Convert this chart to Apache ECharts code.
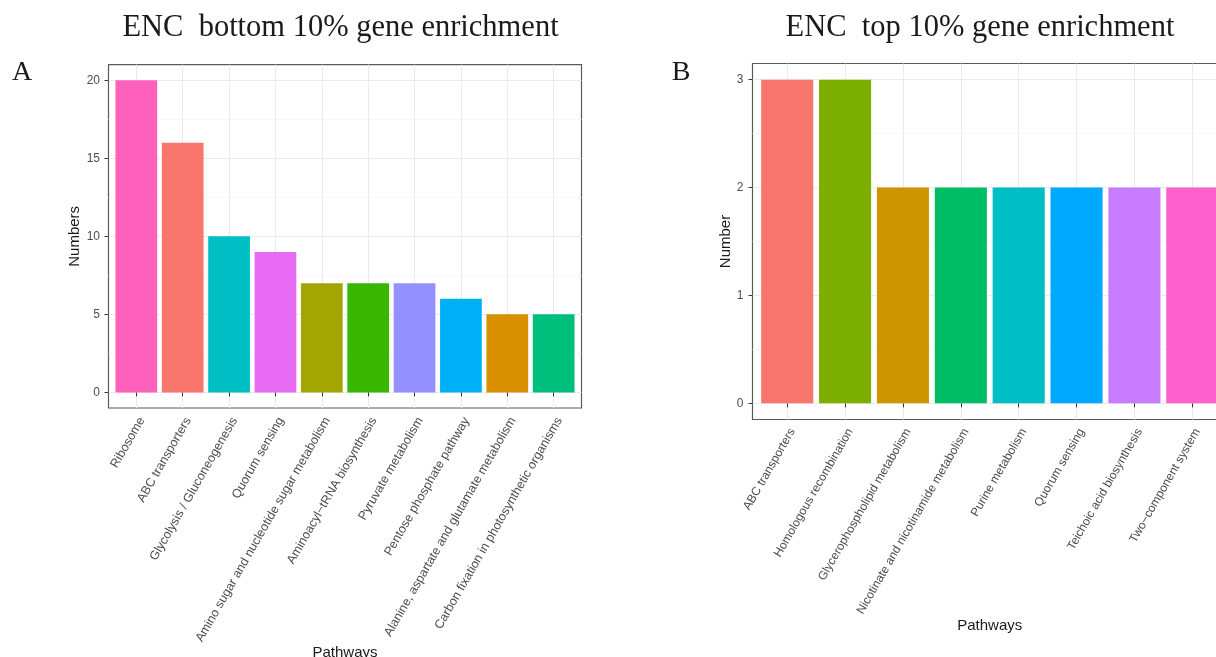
<!DOCTYPE html>
<html>
<head>
<meta charset="utf-8">
<style>
  html, body { margin: 0; padding: 0; background: #ffffff; overflow: hidden; }
  #chart { width: 1216px; height: 657px; }
</style>
<script src="https://cdn.jsdelivr.net/npm/echarts@6/dist/echarts.min.js"></script>
</head>
<body>
<div id="chart"></div>
<script>
// Panel A: pathways enriched in the bottom 10% ENC genes
const bottomPathways = [
  'Ribosome',
  'ABC transporters',
  'Glycolysis / Gluconeogenesis',
  'Quorum sensing',
  'Amino sugar and nucleotide sugar metabolism',
  'Aminoacyl\u2212tRNA biosynthesis',
  'Pyruvate metabolism',
  'Pentose phosphate pathway',
  'Alanine, aspartate and glutamate metabolism',
  'Carbon fixation in photosynthetic organisms'
];
const bottomCounts = [20, 16, 10, 9, 7, 7, 7, 6, 5, 5];
const bottomColors = ['#FF62BC', '#F8766D', '#00BFC4', '#E76BF3', '#A3A500',
                      '#39B600', '#9590FF', '#00B0F6', '#D89000', '#00BF7D'];
const bottomYTicks = [0, 5, 10, 15, 20];
const bottomYMinor = [2.5, 7.5, 12.5, 17.5];

// Panel B: pathways enriched in the top 10% ENC genes
const topPathways = [
  'ABC transporters',
  'Homologous recombination',
  'Glycerophospholipid metabolism',
  'Nicotinate and nicotinamide metabolism',
  'Purine metabolism',
  'Quorum sensing',
  'Teichoic acid biosynthesis',
  'Two\u2212component system'
];
const topCounts = [3, 3, 2, 2, 2, 2, 2, 2];
const topColors = ['#F8766D', '#7CAE00', '#CD9600', '#00BE67',
                   '#00BFC4', '#00A9FF', '#C77CFF', '#FF61CC'];
const topYTicks = [0, 1, 2, 3];
const topYMinor = [0.5, 1.5, 2.5];

const SANS = '"Liberation Sans", Arial, sans-serif';
const SERIF = '"Liberation Serif", "Times New Roman", serif';
const GRID_MAJOR = '#EBEBEB';
const GRID_MINOR = '#F4F4F4';
const FRAME = '#5a5a5a';
const TEXT_GREY = '#4D4D4D';

const chart = echarts.init(document.getElementById('chart'), null, { renderer: 'canvas' });

function positions(n) {
  return Array.from({ length: n }, (_, i) => i + 1);
}

// Discrete x axis drawn on a value scale: categories at 1..n, panel spans 0.4..n+0.6
function xAxisFor(gridIndex, cats, nameGap, labelSize) {
  const pos = positions(cats.length);
  return {
    type: 'value',
    gridIndex,
    min: 0.4,
    max: cats.length + 0.6,
    name: 'Pathways',
    nameLocation: 'middle',
    nameGap,
    nameMoveOverlap: false,
    nameTextStyle: { fontFamily: SANS, fontSize: 15, color: '#1a1a1a' },
    axisLine: { show: false },
    axisTick: { show: true, length: 4, customValues: pos, lineStyle: { color: '#333', width: 1 } },
    axisLabel: {
      show: true,
      customValues: pos,
      rotate: 60,
      margin: 7,
      verticalAlign: 'top',
      fontFamily: SANS,
      fontSize: labelSize,
      color: TEXT_GREY,
      formatter: v => cats[Math.round(v) - 1]
    },
    splitLine: { show: true, lineStyle: { color: GRID_MAJOR, width: 1 } }
  };
}

function yAxisFor(gridIndex, min, max, ticks, name, nameGap, margin) {
  return {
    type: 'value',
    gridIndex,
    min, max,
    name,
    nameLocation: 'middle',
    nameRotate: 90,
    nameGap,
    nameTextStyle: { fontFamily: SANS, fontSize: 15, color: '#1a1a1a' },
    axisLine: { show: false },
    axisTick: { show: true, length: 4, customValues: ticks, lineStyle: { color: '#333', width: 1 } },
    axisLabel: { show: true, customValues: ticks, margin, fontFamily: SANS, fontSize: 12, color: TEXT_GREY },
    splitLine: { show: true, lineStyle: { color: GRID_MAJOR, width: 1 } }
  };
}

// Second y axis per panel only carries the minor horizontal grid lines
function minorYAxisFor(gridIndex, min, max, ticks) {
  return {
    type: 'value',
    gridIndex,
    min, max,
    position: 'left',
    axisLine: { show: false },
    axisTick: { show: false, customValues: ticks },
    axisLabel: { show: false, customValues: ticks },
    splitLine: { show: true, lineStyle: { color: GRID_MINOR, width: 0.7 } }
  };
}

function barData(counts, colors) {
  return counts.map((c, i) => ({ value: [i + 1, c], itemStyle: { color: colors[i] } }));
}

const option = {
  backgroundColor: '#ffffff',
  animation: false,
  grid: [
    { left: 108.5, top: 64.7, width: 473, height: 343.3, show: true, outerBoundsMode: 'none',
      backgroundColor: '#ffffff', borderColor: FRAME, borderWidth: 1.2, z: 0 },
    { left: 752.5, top: 63.5, width: 474.5, height: 356, show: true, outerBoundsMode: 'none',
      backgroundColor: '#ffffff', borderColor: FRAME, borderWidth: 1.2, z: 0 }
  ],
  xAxis: [
    xAxisFor(0, bottomPathways, 237, 12.5),
    xAxisFor(1, topPathways, 199, 12)
  ],
  yAxis: [
    yAxisFor(0, -1, 21, bottomYTicks, 'Numbers', 26, 8.5),
    minorYAxisFor(0, -1, 21, bottomYMinor),
    yAxisFor(1, -0.15, 3.15, topYTicks, 'Number', 18, 9),
    minorYAxisFor(1, -0.15, 3.15, topYMinor)
  ],
  series: [
    {
      type: 'bar',
      xAxisIndex: 0,
      yAxisIndex: 0,
      barWidth: '90%',
      data: barData(bottomCounts, bottomColors),
      z: 3
    },
    {
      type: 'bar',
      xAxisIndex: 1,
      yAxisIndex: 2,
      barWidth: '90%',
      data: barData(topCounts, topColors),
      z: 3
    }
  ],
  graphic: [
    { type: 'text', x: 340.5, y: 28, style: { text: 'ENC  bottom 10% gene enrichment',
      font: '30.5px ' + SERIF, fill: '#1a1a1a', textAlign: 'center', textVerticalAlign: 'middle' } },
    { type: 'text', x: 980, y: 28, style: { text: 'ENC  top 10% gene enrichment',
      font: '30.5px ' + SERIF, fill: '#1a1a1a', textAlign: 'center', textVerticalAlign: 'middle' } },
    { type: 'text', x: 22, y: 73, style: { text: 'A',
      font: '28px ' + SERIF, fill: '#1a1a1a', textAlign: 'center', textVerticalAlign: 'middle' } },
    { type: 'text', x: 681, y: 73, style: { text: 'B',
      font: '28px ' + SERIF, fill: '#1a1a1a', textAlign: 'center', textVerticalAlign: 'middle' } }
  ]
};

chart.setOption(option);
</script>
</body>
</html>
